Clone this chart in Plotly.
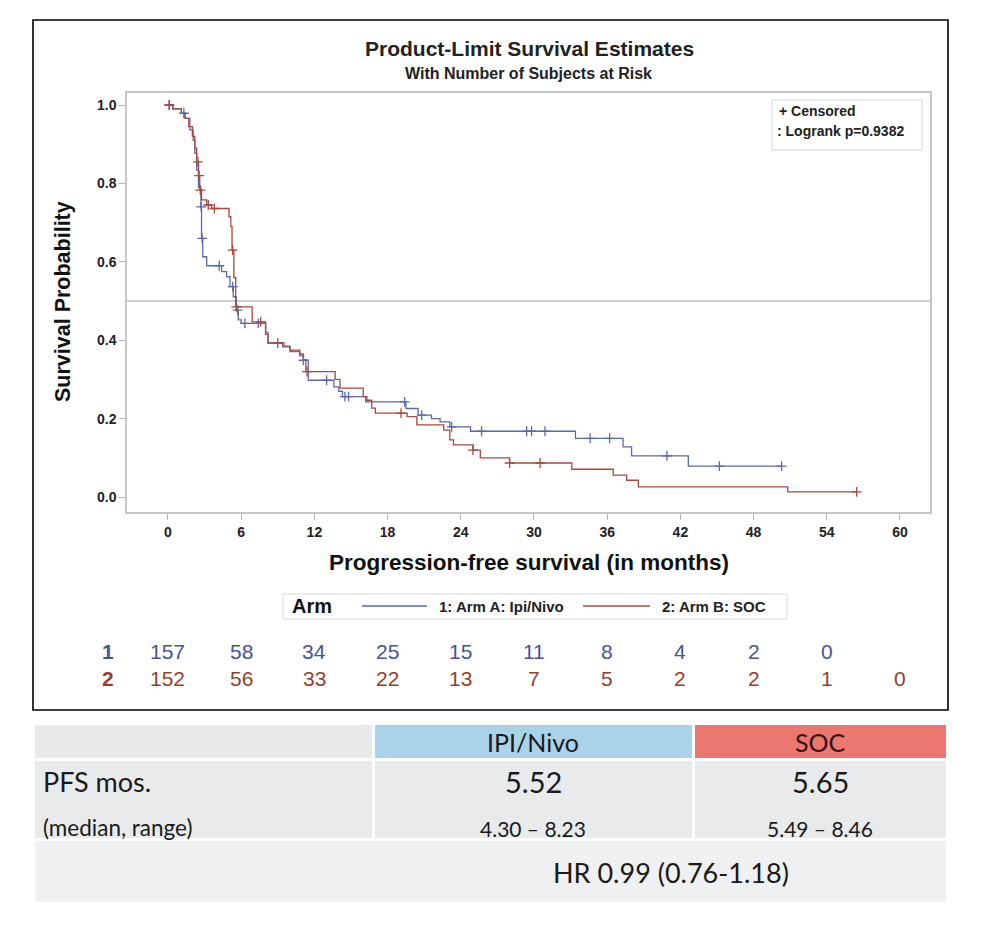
import numpy as np
import plotly.graph_objects as go

W, H = 990, 930

# ---------------- data ----------------
blue_t = [0, 0.4, 1.1, 1.4, 1.8, 2.07, 2.2, 2.35, 2.5, 2.7, 2.75, 2.85, 3.17, 4.4, 4.8, 5.08, 5.35, 5.6, 5.76, 6.0,
          8.0, 8.2, 9.4, 10.0, 10.8, 11.1, 11.5, 13.6, 14.0, 14.3, 16.2, 19.5, 20.5, 21.6, 22.3, 23.1, 24.8, 33.4,
          37.3, 38.0, 42.65, 50.3]
blue_s = [1.0, 0.99, 0.979, 0.966, 0.936, 0.91, 0.877, 0.834, 0.79, 0.74, 0.66, 0.613, 0.59, 0.575, 0.562, 0.537,
          0.511, 0.477, 0.452, 0.443, 0.42, 0.393, 0.383, 0.371, 0.36, 0.349, 0.298, 0.281, 0.27, 0.256, 0.243,
          0.226, 0.209, 0.2, 0.192, 0.179, 0.168, 0.15, 0.128, 0.105, 0.079, 0.079]
red_t = [0, 0.4, 1.1, 1.4, 1.7, 2.0, 2.2, 2.35, 2.5, 2.6, 2.75, 3.17, 3.58, 5.0, 5.15, 5.25, 5.4, 5.55, 6.9, 8.0,
         8.2, 9.5, 10.0, 10.8, 11.1, 11.3, 13.7, 14.1, 16.0, 16.3, 16.7, 17.0, 19.6, 20.4, 22.6, 23.1, 23.4, 25.0,
         25.6, 28.0, 33.1, 36.5, 37.6, 38.55, 50.8, 56.45]
red_s = [1.0, 0.99, 0.979, 0.966, 0.945, 0.92, 0.89, 0.855, 0.82, 0.783, 0.758, 0.745, 0.736, 0.715, 0.69, 0.63,
         0.56, 0.485, 0.447, 0.415, 0.393, 0.385, 0.375, 0.365, 0.35, 0.32, 0.30, 0.278, 0.256, 0.247, 0.227,
         0.214, 0.205, 0.184, 0.171, 0.146, 0.133, 0.12, 0.10, 0.087, 0.071, 0.056, 0.043, 0.026, 0.0135, 0.0135]

blue_cens_t = [0.1, 1.3, 2.72, 2.8, 4.2, 5.3, 5.7, 6.3, 7.4, 11.1, 13.0, 14.5, 14.8, 19.4, 20.8, 23.25, 25.7,
               29.4, 29.8, 30.9, 34.6, 36.2, 40.9, 45.2, 50.3]
red_cens_t = [0.1, 2.45, 2.55, 2.65, 3.3, 3.8, 5.3, 5.6, 7.6, 9.0, 11.4, 19.1, 25.0, 28.0, 30.5, 56.45]

risk_times = [0, 6, 12, 18, 24, 30, 36, 42, 48, 54, 60]
risk_arm1 = [157, 58, 34, 25, 15, 11, 8, 4, 2, 0]
risk_arm2 = [152, 56, 33, 22, 13, 7, 5, 2, 2, 1, 0]

x_ticks = [0, 6, 12, 18, 24, 30, 36, 42, 48, 54, 60]
y_ticks = [0.0, 0.2, 0.4, 0.6, 0.8, 1.0]

arm_names = ["1: Arm A: Ipi/Nivo", "2: Arm B: SOC"]
tbl_header = ["", "IPI/Nivo", "SOC"]
tbl_median = ["5.52", "5.65"]
tbl_range = ["4.30 \u2013 8.23", "5.49 \u2013 8.46"]
tbl_hr = "HR 0.99 (0.76-1.18)"
logrank_text = ": Logrank p=0.9382"

BLUE = "#5b6aab"
RED = "#a8493f"
BLUE_T = "#45549a"
RED_T = "#933f2f"
FONT = "Liberation Sans"
TFONT = "Lato"


def px(x):
    return x / W


def py(y):
    return 1 - y / H


def surv_at(ts, ss, t):
    ts = np.asarray(ts)
    i = np.searchsorted(ts, t, side="right") - 1
    return [ss[k] for k in i]


fig = go.Figure()

fig.add_trace(go.Scatter(x=blue_t, y=blue_s, mode="lines", line=dict(color=BLUE, width=1.3, shape="hv"),
                         showlegend=False, hoverinfo="skip"))
fig.add_trace(go.Scatter(x=red_t, y=red_s, mode="lines", line=dict(color=RED, width=1.3, shape="hv"),
                         showlegend=False, hoverinfo="skip"))
fig.add_trace(go.Scatter(x=blue_cens_t, y=surv_at(blue_t, blue_s, blue_cens_t), mode="markers",
                         marker=dict(symbol="cross-thin", size=7, line=dict(color=BLUE, width=1.3)),
                         showlegend=False, hoverinfo="skip"))
fig.add_trace(go.Scatter(x=red_cens_t, y=surv_at(red_t, red_s, red_cens_t), mode="markers",
                         marker=dict(symbol="cross-thin", size=7, line=dict(color=RED, width=1.3)),
                         showlegend=False, hoverinfo="skip"))

shapes = []
ann = []

# outer frame
shapes.append(dict(type="rect", xref="paper", yref="paper", x0=px(33), x1=px(948), y0=py(710), y1=py(20),
                   line=dict(color="black", width=1.6)))
# median reference line
shapes.append(dict(type="line", xref="x domain", yref="y", x0=0, x1=1, y0=0.5, y1=0.5,
                   line=dict(color="#bcbcbc", width=1.5), layer="below"))
# censored/logrank box
shapes.append(dict(type="rect", xref="paper", yref="paper", x0=px(772), x1=px(922), y0=py(150), y1=py(100),
                   line=dict(color="#d6d6d6", width=1)))
ann.append(dict(x=px(777), y=py(111), xref="paper", yref="paper", xanchor="left", yanchor="middle",
                text="<b>+ Censored</b>", showarrow=False, font=dict(family=FONT, size=14, color="#222")))
ann.append(dict(x=px(775), y=py(131), xref="paper", yref="paper", xanchor="left", yanchor="middle",
                text="<b>" + logrank_text + "</b>", showarrow=False, font=dict(family=FONT, size=14, color="#222")))

# titles
ann.append(dict(x=px(529), y=py(48), xref="paper", yref="paper", xanchor="center", yanchor="middle",
                text="<b>Product-Limit Survival Estimates</b>", showarrow=False,
                font=dict(family=FONT, size=21, color="#222")))
ann.append(dict(x=px(528), y=py(73), xref="paper", yref="paper", xanchor="center", yanchor="middle",
                text="<b>With Number of Subjects at Risk</b>", showarrow=False,
                font=dict(family=FONT, size=16, color="#222")))
# axis titles
ann.append(dict(x=px(529), y=py(562), xref="paper", yref="paper", xanchor="center", yanchor="middle",
                text="<b>Progression-free survival (in months)</b>", showarrow=False,
                font=dict(family=FONT, size=22.5, color="#111")))
ann.append(dict(x=px(63), y=py(301), xref="paper", yref="paper", xanchor="center", yanchor="middle",
                text="<b>Survival Probability</b>", showarrow=False, textangle=-90,
                font=dict(family=FONT, size=21.5, color="#111")))

# Arm legend
shapes.append(dict(type="rect", xref="paper", yref="paper", x0=px(283), x1=px(787), y0=py(619), y1=py(594),
                   line=dict(color="#dadada", width=1)))
ann.append(dict(x=px(290), y=py(606), xref="paper", yref="paper", xanchor="left", yanchor="middle",
                text="<b>Arm</b>", showarrow=False, font=dict(family=FONT, size=20, color="#111")))
shapes.append(dict(type="line", xref="paper", yref="paper", x0=px(362), x1=px(427), y0=py(606), y1=py(606),
                   line=dict(color=BLUE, width=1.3)))
ann.append(dict(x=px(437), y=py(606), xref="paper", yref="paper", xanchor="left", yanchor="middle",
                text="<b>" + arm_names[0] + "</b>", showarrow=False, font=dict(family=FONT, size=15, color="#222")))
shapes.append(dict(type="line", xref="paper", yref="paper", x0=px(583), x1=px(650), y0=py(606), y1=py(606),
                   line=dict(color=RED, width=1.3)))
ann.append(dict(x=px(660), y=py(606), xref="paper", yref="paper", xanchor="left", yanchor="middle",
                text="<b>" + arm_names[1] + "</b>", showarrow=False, font=dict(family=FONT, size=15, color="#222")))

# risk table
ann.append(dict(x=px(108), y=py(651), xref="paper", yref="paper", xanchor="center", yanchor="middle",
                text="<b>1</b>", showarrow=False, font=dict(family=FONT, size=21, color=BLUE_T)))
ann.append(dict(x=px(108), y=py(678), xref="paper", yref="paper", xanchor="center", yanchor="middle",
                text="<b>2</b>", showarrow=False, font=dict(family=FONT, size=21, color=RED_T)))
for t, n in zip(risk_times, risk_arm1):
    ann.append(dict(x=t, y=py(651), xref="x", yref="paper", xanchor="center", yanchor="middle",
                    text=str(n), showarrow=False, font=dict(family=FONT, size=21, color=BLUE_T)))
for t, n in zip(risk_times, risk_arm2):
    ann.append(dict(x=t, y=py(678), xref="x", yref="paper", xanchor="center", yanchor="middle",
                    text=str(n), showarrow=False, font=dict(family=FONT, size=21, color=RED_T)))

# summary table
cells = [
    (35, 372, 725, 758, "#e7e9eb"), (375, 692, 725, 758, "#abd3e7"), (695, 946, 725, 758, "#ea7871"),
    (35, 372, 761, 838, "#e8eaec"), (375, 692, 761, 838, "#e8eaec"), (695, 946, 761, 838, "#e8eaec"),
    (35, 946, 841, 902, "#eef0f1"),
]
for x0, x1, y0, y1, c in cells:
    shapes.append(dict(type="rect", xref="paper", yref="paper", x0=px(x0), x1=px(x1), y0=py(y1), y1=py(y0),
                       fillcolor=c, line=dict(width=0), layer="below"))
col_c = [533, 820]
hdr_col = ["#1a1a1a", "#3a1010"]
for i in range(2):
    ann.append(dict(x=px(col_c[i]), y=py(742), xref="paper", yref="paper", xanchor="center", yanchor="middle",
                    text=tbl_header[i + 1], showarrow=False, font=dict(family=TFONT, size=25, color=hdr_col[i])))
    ann.append(dict(x=px(col_c[i]), y=py(781), xref="paper", yref="paper", xanchor="center", yanchor="middle",
                    text=tbl_median[i], showarrow=False, font=dict(family=TFONT, size=29, color="#1a1a1a")))
    ann.append(dict(x=px(col_c[i]), y=py(828), xref="paper", yref="paper", xanchor="center", yanchor="middle",
                    text=tbl_range[i], showarrow=False, font=dict(family=TFONT, size=21, color="#1a1a1a")))
ann.append(dict(x=px(41), y=py(781), xref="paper", yref="paper", xanchor="left", yanchor="middle",
                text="PFS mos.", showarrow=False, font=dict(family=TFONT, size=27, color="#1a1a1a")))
ann.append(dict(x=px(41), y=py(827), xref="paper", yref="paper", xanchor="left", yanchor="middle",
                text="(median, range)", showarrow=False, font=dict(family=TFONT, size=22.5, color="#1a1a1a")))
ann.append(dict(x=px(671), y=py(872), xref="paper", yref="paper", xanchor="center", yanchor="middle",
                text=tbl_hr, showarrow=False, font=dict(family=TFONT, size=27, color="#1a1a1a")))

fig.update_layout(
    width=W, height=H, margin=dict(l=0, r=0, t=0, b=0), paper_bgcolor="white", plot_bgcolor="white",
    shapes=shapes, annotations=ann, showlegend=False,
    xaxis=dict(domain=[px(127), px(930)], range=[-3.36, 62.46], tickvals=x_ticks,
               ticktext=["<b>%d</b>" % v for v in x_ticks], ticks="outside", ticklen=6, tickcolor="#b5b5b5",
               showline=True, mirror=True, linecolor="#c6c6c6", linewidth=1.5, showgrid=False, zeroline=False,
               tickfont=dict(family=FONT, size=14, color="#222")),
    yaxis=dict(domain=[py(512), py(93)], range=[-0.038, 1.0306], tickvals=y_ticks,
               ticktext=["<b>%.1f</b>" % v for v in y_ticks], ticks="outside", ticklen=6, tickcolor="#b5b5b5",
               showline=True, mirror=True, linecolor="#c6c6c6", linewidth=1.5, showgrid=False, zeroline=False,
               tickfont=dict(family=FONT, size=14, color="#222")),
)

fig.write_html("out.html")
